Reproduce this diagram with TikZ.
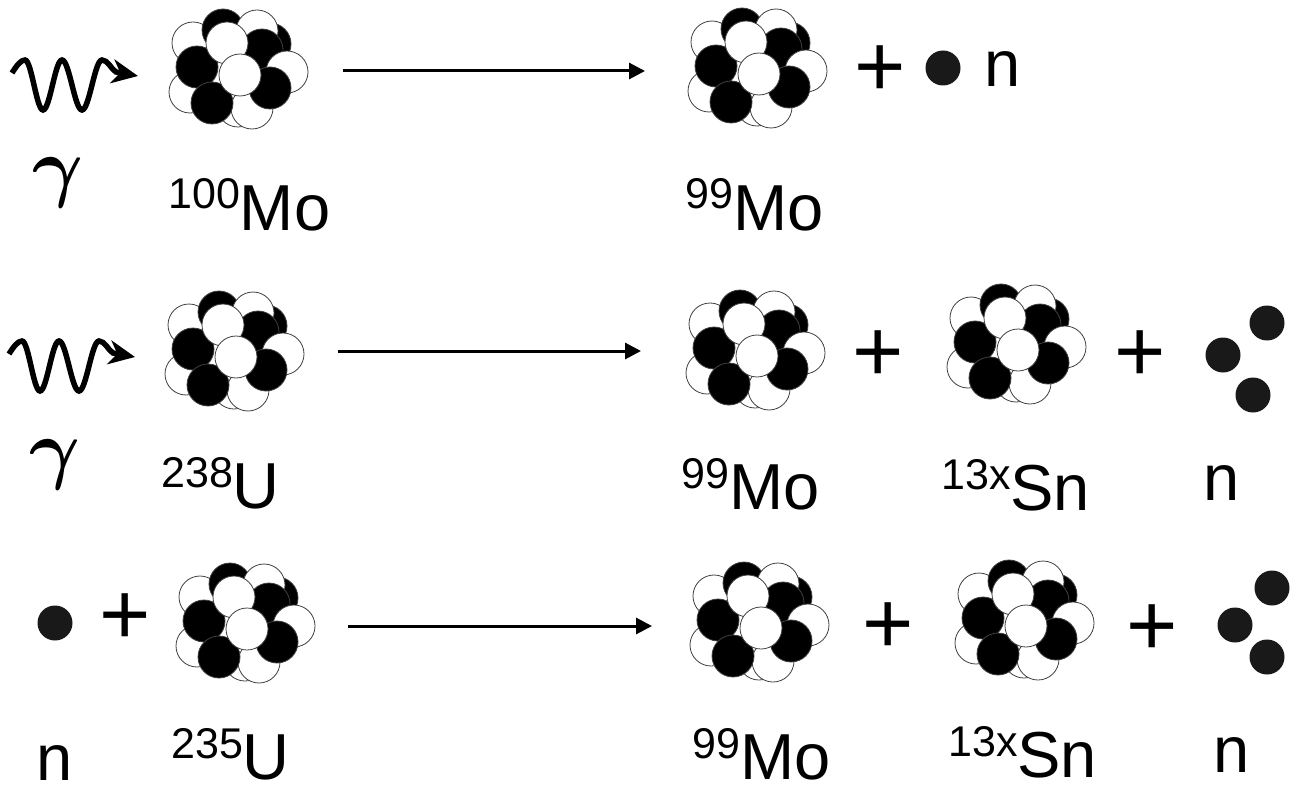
\documentclass[tikz,border=0pt]{standalone}
\usepackage{fontspec}
\setmainfont{Liberation Sans}
\usetikzlibrary{arrows.meta}

% mass number raised in front of the element symbol
\newcommand\iso[2]{{\fontsize{43}{43}\selectfont\raisebox{21pt}{#1}}#2}

\tikzset{
	nucleon/.style={draw=black!75, line width=0.8pt},
	nucleus/.pic={
		% back to front
		\foreach \x/\y/\c in {-47/-25/white, -50/24/white, -2/38/white, 12/40/white, -25/9/white,
				-17/-38/black, 30/-24/black, 17/-37/white, 22/-18/black, 47/4/white,
				-43/-1/black, -13/-25/white, -28/35/black, 30/20/black, 0/7/white}
			\draw[nucleon, fill=\c] (\x,\y) circle[radius=21pt];
	},
	photon/.pic={
		\draw[line width=5.5pt, -{Stealth[length=26pt, width=24pt, inset=8pt]}]
			(2,-12) .. controls (7,-20) and (11,-25) .. (15,-25)
			cos (24,0) sin (33,25) cos (42.5,0) sin (52,-25)
			cos (62,0) sin (72,25) cos (82,0) sin (92,-25)
			.. controls (98,-25) and (101,-16) .. (106,-13) -- (128,-9);
	},
	reaction/.style={line width=3pt, -{Triangle[length=16pt, width=16pt]}},
	neutron/.style={circle, fill=black!90, minimum size=35pt, inner sep=0pt},
	plussign/.style={inner sep=0pt, font=\fontsize{88}{88}\selectfont},
	isolabel/.style={anchor=base west, inner sep=0pt, font=\fontsize{65}{70}\selectfont},
	gamma/.style={inner sep=0pt, font=\boldmath}
}

\begin{document}
\begin{tikzpicture}[x=1pt, y=-1pt]
	\useasboundingbox (0,0) rectangle (1297,794);

	% photon on Mo-100
	\pic at (10,85) {photon};
	\node[gamma] (g1) at (58,183) {\scalebox{7.8}{$\gamma$}};
	\pic (mo100) at (240,68) {nucleus};
	\node[isolabel] (l100) at (168,230) {\iso{100}{Mo}};
	\coordinate (r1s) at (343,71);
	\coordinate (r1e) at (645,71);
	\draw[reaction] (r1s) -- (r1e);
	\pic (mo99a) at (759,67) {nucleus};
	\node[isolabel] (l99a) at (685,230) {\iso{99}{Mo}};
	\node[plussign] (p1) at (880,71) {+};
	\node[neutron] (n1) at (943,68) {};
	\node[isolabel] (ln1) at (984,87) {n};

	% photofission of U-238
	\pic at (7,366) {photon};
	\node[gamma] (g2) at (55,465) {\scalebox{7.8}{$\gamma$}};
	\pic (u238) at (236,350) {nucleus};
	\node[isolabel] (l238) at (161,508) {\iso{238}{U}};
	\coordinate (r2s) at (338,351);
	\coordinate (r2e) at (641,351);
	\draw[reaction] (r2s) -- (r2e);
	\pic (mo99b) at (757,349) {nucleus};
	\node[isolabel] (l99b) at (681,509) {\iso{99}{Mo}};
	\node[plussign] (p2) at (878,356) {+};
	\pic (sn1) at (1018,343) {nucleus};
	\node[isolabel] (lsn1) at (941,510) {\iso{13x}{Sn}};
	\node[plussign] (p3) at (1140,356) {+};
	\node[neutron] (n2) at (1223,355) {};
	\node[neutron] (n3) at (1267,323) {};
	\node[neutron] (n4) at (1253,395) {};
	\node[isolabel] (ln2) at (1203,500) {n};

	% neutron fission of U-235
	\node[neutron] (n5) at (55,623) {};
	\node[isolabel] (ln3) at (36,780) {n};
	\node[plussign] (p4) at (125,619) {+};
	\pic (u235) at (247,622) {nucleus};
	\node[isolabel] (l235) at (171,779) {\iso{235}{U}};
	\coordinate (r3s) at (348,626);
	\coordinate (r3e) at (652,626);
	\draw[reaction] (r3s) -- (r3e);
	\pic (mo99c) at (761,621) {nucleus};
	\node[isolabel] (l99c) at (692,779) {\iso{99}{Mo}};
	\node[plussign] (p5) at (888,628) {+};
	\pic (sn2) at (1026,619) {nucleus};
	\node[isolabel] (lsn2) at (948,777) {\iso{13x}{Sn}};
	\node[plussign] (p6) at (1152,630) {+};
	\node[neutron] (n6) at (1235,625) {};
	\node[neutron] (n7) at (1272,588) {};
	\node[neutron] (n8) at (1267,657) {};
	\node[isolabel] (ln4) at (1213,772) {n};
\end{tikzpicture}
\end{document}
